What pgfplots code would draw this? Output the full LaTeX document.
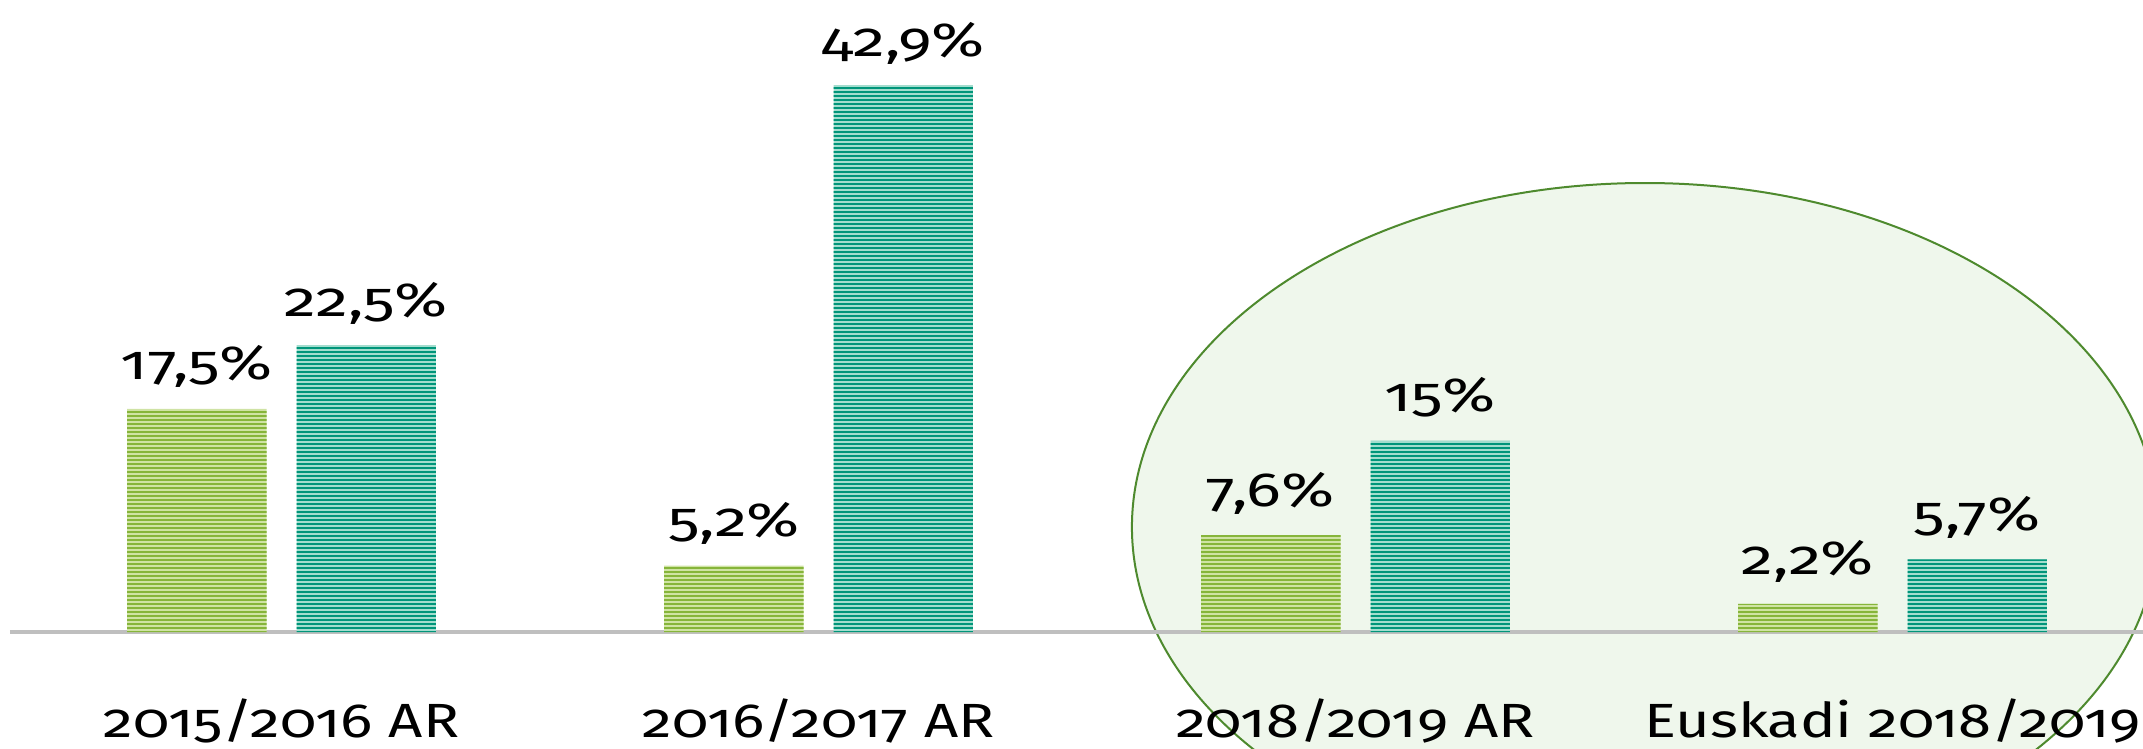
\documentclass[border=0pt]{standalone}
\usepackage{fontspec}
\setmainfont{Fira Sans}[Numbers=OldStyle, FakeStretch=1.34]
\newfontfamily\tickfont{Fira Sans}[Numbers=OldStyle, FakeStretch=1.245]
\usepackage{pgfplots}
\pgfplotsset{compat=1.18}
\usetikzlibrary{patterns}
\pgfdeclarepatternformonly{hstripes}{\pgfpointorigin}{\pgfqpoint{2400pt}{2.15pt}}{\pgfqpoint{2400pt}{2.15pt}}{%
  \pgfpathrectangle{\pgfpointorigin}{\pgfqpoint{2400pt}{1.15pt}}\pgfusepath{fill}}
\definecolor{grnD}{HTML}{86B53A}
\definecolor{grnL}{HTML}{CFE3A4}
\definecolor{tealD}{HTML}{00957A}
\definecolor{tealL}{HTML}{A3DDCE}
\definecolor{ellF}{HTML}{EFF7EC}
\definecolor{ellS}{HTML}{4E8A2E}
\begin{document}
\begin{tikzpicture}
\begin{axis}[
  set layers,
  scale only axis, width=1066.5pt, height=374pt,
  xmin=-0.5056, xmax=3.4665, ymin=-9.098, ymax=49.57,
  axis x line=middle, axis y line=none,
  hide obscured x ticks=false,
  x axis line style={-, draw=black!25, line width=1.75pt},
  xtick={0,1,2,3},
  xticklabels={2015/2016 AR, 2016/2017 AR, 2018/2019 AR, Euskadi 2018/2019},
  major tick length=0pt,
  xticklabel style={anchor=base, yshift=-52.5pt, font=\tickfont\fontsize{24}{28}\selectfont, text=black},
  ybar=15pt, bar width=69.7pt,
  /pgf/number format/assume math mode=true,
  nodes near coords={\pgfmathprintnumber[use comma]{\pgfplotspointmeta}\%},
  nodes near coords style={anchor=base, yshift=14.5pt, font=\fontsize{24}{28}\selectfont, text=black},
]
\begin{pgfonlayer}{axis background}
\fill[ellF, draw=ellS, line width=1pt, overlay] (axis cs:2.539,8.235) ellipse [x radius=256.5pt, y radius=172pt];
\end{pgfonlayer}
\addplot[draw=none, fill=grnL, postaction={pattern=hstripes, pattern color=grnD}]
  coordinates {(0,17.5) (1,5.2) (2,7.6) (3,2.2)};
\addplot[draw=none, fill=tealL, postaction={pattern=hstripes, pattern color=tealD}]
  coordinates {(0,22.5) (1,42.9) (2,15) (3,5.7)};
\end{axis}
\pgfresetboundingbox
\path ([xshift=-5pt]current axis.south west) rectangle (current axis.north east);
\end{tikzpicture}
\end{document}
